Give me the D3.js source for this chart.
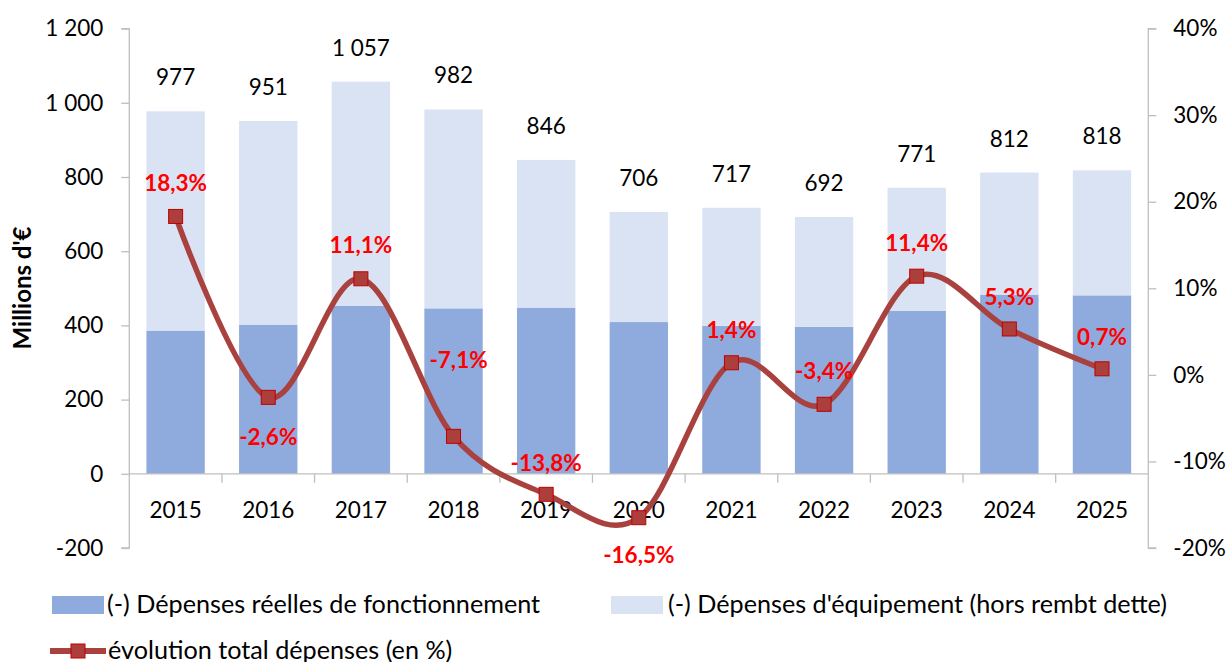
<!DOCTYPE html>
<html><head><meta charset="utf-8">
<script src="https://cdn.jsdelivr.net/npm/d3@7"></script>
<style>body{margin:0;background:#fff}svg{display:block;font-family:Lato,"Open Sans",sans-serif}</style>
</head><body><svg id="c" width="1228" height="662"></svg>
<script>
const years = ['2015','2016','2017','2018','2019','2020','2021','2022','2023','2024','2025'];
const fonctionnement = [386,402,453,446,448,409,399,396,439,483,481];
const equipement     = [591,549,604,536,398,297,318,296,332,329,337];
const totals         = [977,951,1057,982,846,706,717,692,771,812,818];
const evolution      = [18.3,-2.6,11.1,-7.1,-13.8,-16.5,1.4,-3.4,11.4,5.3,0.7];
const leftTicks  = [-200,0,200,400,600,800,1000,1200];
const rightTicks = [-20,-10,0,10,20,30,40];
const seriesNames = ['(-) Dépenses réelles de fonctionnement',"(-) Dépenses d'équipement (hors rembt dette)",'évolution total dépenses (en %)'];
// label placement (layout only): vertical offset of the % labels relative to markers
const pctLabelDy = [-33,40,-34,-76,-31,37,-33,-33,-33,-32,-32];
const pctLabelDx = [0,0,0,5,0,0,0,0,0,0,0];

const svg = d3.select('#c');
const L = 129.3, R = 1148.3, T = 28.6, B = 548;
const loc = d3.formatLocale({decimal:',', thousands:'\u00a0', grouping:[3], currency:['','€'], minus:'-'});
const fmtN = loc.format(',d');
const fmtP = loc.format('.1f');

const x = d3.scaleBand().domain(years).range([L,R]).paddingInner(0.37).paddingOuter(0.185);
const y = d3.scaleLinear().domain([-200,1200]).range([B,T]);
const y2 = d3.scaleLinear().domain([-20,40]).range([B,T]);
const axisColor = '#bfbfbf';
const cDark = '#8faadc', cLight = '#dae3f3', cLine = '#a9423f', cMark = '#ac3f3c', cMarkStroke = '#c00000';
const fs = 22.5;

// bars
const stackData = years.map((yr,i)=>({yr, f:fonctionnement[i], e:equipement[i]}));
const stack = d3.stack().keys(['f','e'])(stackData);
const colors = [cDark, cLight];
stack.forEach((s,k)=>{
  svg.append('g').selectAll('rect').data(s).join('rect')
    .attr('x',d=>x(d.data.yr)).attr('width',x.bandwidth())
    .attr('y',d=>y(d[1])).attr('height',d=>y(d[0])-y(d[1]))
    .attr('fill',colors[k]);
});

// left axis
const gl = svg.append('g').attr('transform',`translate(${L},0)`)
  .call(d3.axisLeft(y).tickValues(leftTicks).tickSize(8).tickPadding(18).tickFormat(fmtN));
gl.select('.domain').attr('stroke',axisColor).attr('stroke-width',1.3).attr('d',`M-8,${B}H0V${T}H-8`);
gl.selectAll('.tick line').attr('stroke',axisColor).attr('stroke-width',1.3);
gl.selectAll('.tick text').attr('font-size',fs).attr('fill','#000').attr('font-family','Lato');

// right axis
const gr = svg.append('g').attr('transform',`translate(${R},0)`)
  .call(d3.axisRight(y2).tickValues(rightTicks).tickSize(8).tickPadding(17).tickFormat(d=>fmtN(d)+'%'));
gr.select('.domain').attr('stroke',axisColor).attr('stroke-width',1.3).attr('d',`M8,${B}H0V${T}H8`);
gr.selectAll('.tick line').attr('stroke',axisColor).attr('stroke-width',1.3);
gr.selectAll('.tick text').attr('font-size',fs).attr('fill','#000').attr('font-family','Lato');

// category axis at 0
const y0 = y(0);
svg.append('line').attr('x1',L).attr('x2',R).attr('y1',y0).attr('y2',y0).attr('stroke',axisColor).attr('stroke-width',1.3);
const step = x.step();
svg.append('g').selectAll('line').data(d3.range(1,years.length)).join('line')
  .attr('x1',i=>L+i*step).attr('x2',i=>L+i*step).attr('y1',y0).attr('y2',y0+9)
  .attr('stroke',axisColor).attr('stroke-width',1.3);
svg.append('g').selectAll('text').data(years).join('text')
  .attr('x',d=>x(d)+x.bandwidth()/2).attr('y',y0+44).attr('text-anchor','middle')
  .attr('font-size',fs).text(d=>d);

// y title
svg.append('text').attr('transform',`translate(31,288) rotate(-90)`).attr('text-anchor','middle')
  .attr('font-size',24).attr('font-weight','bold').text("Millions d'€");

// line
const cx = d=>x(d)+x.bandwidth()/2;
const line = d3.line().x((d,i)=>cx(years[i])).y(d=>y2(d)).curve(d3.curveCatmullRom.alpha(0));
svg.append('path').datum(evolution).attr('d',line).attr('fill','none').attr('stroke',cLine).attr('stroke-width',5.5).attr('stroke-linejoin','round');
const ms = 14;
svg.append('g').selectAll('rect').data(evolution).join('rect')
  .attr('x',(d,i)=>cx(years[i])-ms/2).attr('y',d=>y2(d)-ms/2).attr('width',ms).attr('height',ms)
  .attr('fill',cMark).attr('stroke',cMarkStroke).attr('stroke-width',1);

// total labels
svg.append('g').selectAll('text').data(totals).join('text')
  .attr('x',(d,i)=>cx(years[i])).attr('y',d=>y(d)-26).attr('text-anchor','middle')
  .attr('font-size',fs).attr('fill','#000').text(d=>fmtN(d));

// pct labels
svg.append('g').selectAll('text').data(evolution).join('text')
  .attr('x',(d,i)=>cx(years[i])+pctLabelDx[i]).attr('y',(d,i)=>y2(d)+pctLabelDy[i]+8).attr('text-anchor','middle')
  .attr('font-size',22.5).attr('font-weight','bold').attr('fill','#ff0000').text(d=>fmtP(d)+'%');

// legend
const lg = svg.append('g').attr('font-size',25.2);
lg.append('rect').attr('x',52).attr('y',596).attr('width',52).attr('height',18).attr('fill',cDark);
lg.append('text').attr('x',107).attr('y',612.5).text(seriesNames[0]);
lg.append('rect').attr('x',611).attr('y',596).attr('width',52).attr('height',18).attr('fill',cLight);
lg.append('text').attr('x',668).attr('y',612.5).text(seriesNames[1]);
lg.append('line').attr('x1',50).attr('x2',106).attr('y1',651).attr('y2',651).attr('stroke',cLine).attr('stroke-width',6);
lg.append('rect').attr('x',78-ms/2).attr('y',651-ms/2).attr('width',ms).attr('height',ms).attr('fill',cMark).attr('stroke',cMarkStroke);
lg.append('text').attr('x',108).attr('y',658.5).text(seriesNames[2]);
</script></body></html>
